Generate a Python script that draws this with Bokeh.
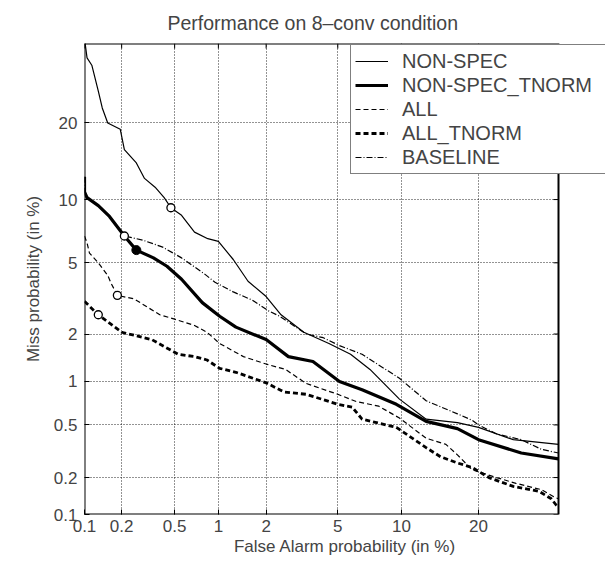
from statistics import NormalDist
from bokeh.plotting import figure
from bokeh.models import (FixedTicker, Legend, LegendItem, Range1d)
from bokeh.embed import file_html
from bokeh.resources import INLINE

# ---- data (percent) ----
TICKS = [0.1, 0.2, 0.5, 1, 2, 5, 10, 20]
TICK_LABELS = ["0.1", "0.2", "0.5", "1", "2", "5", "10", "20"]
LIMITS = [0.1, 35.0]

NON_SPEC_FA = [0.1, 0.105, 0.115, 0.13, 0.14, 0.155, 0.195, 0.21, 0.26, 0.3, 0.36, 0.42, 0.47,
               0.56, 0.69, 0.85, 1.0, 1.25, 1.55, 2.0, 2.45, 3.3, 4.5, 5.8, 7.2, 9.8, 12.7,
               16.8, 20, 26, 35]
NON_SPEC_MISS = [36, 32, 30.5, 25.5, 22.5, 20, 19, 16, 14.2, 12.3, 11.3, 10.2, 9.2,
                 8.5, 7.1, 6.6, 6.4, 5.2, 4.0, 3.3, 2.6, 2.05, 1.75, 1.5, 1.2, 0.76, 0.55,
                 0.52, 0.48, 0.39, 0.36]

NS_TNORM_FA = [0.1, 0.1, 0.105, 0.13, 0.16, 0.21, 0.26, 0.35, 0.44, 0.56, 0.78, 1.02, 1.3,
               2.0, 2.7, 3.7, 5.1, 6.6, 9.5, 12.7, 16.8, 20, 27.5, 35]
NS_TNORM_MISS = [12.5, 10.8, 10.2, 9.4, 8.4, 6.8, 5.8, 5.3, 4.8, 4.1, 3.05, 2.55, 2.2,
                 1.85, 1.45, 1.35, 1.0, 0.88, 0.7, 0.53, 0.47, 0.39, 0.31, 0.28]

ALL_FA = [0.1, 0.105, 0.11, 0.13, 0.155, 0.165, 0.185, 0.25, 0.31, 0.39, 0.5, 0.69, 0.84,
          1.02, 1.45, 2.0, 2.6, 3.4, 5.0, 6.2, 7.9, 9.8, 12.7, 15.2, 16.8, 19, 23, 26.5,
          31.5, 34, 35]
ALL_MISS = [6.8, 6.3, 5.6, 5.0, 4.3, 3.9, 3.35, 3.2, 2.9, 2.6, 2.45, 2.25, 2.05,
            1.75, 1.45, 1.3, 1.2, 0.97, 0.82, 0.73, 0.68, 0.56, 0.4, 0.36, 0.3, 0.23,
            0.2, 0.18, 0.16, 0.14, 0.135]

ALL_TNORM_FA = [0.1, 0.13, 0.2, 0.34, 0.53, 0.69, 0.84, 1.02, 1.3, 2.0, 2.55, 3.4, 5.0,
                5.9, 6.6, 9.5, 12.7, 14.5, 16.8, 19, 21.7, 26, 31, 33.5, 34.5, 35]
ALL_TNORM_MISS = [3.1, 2.6, 2.05, 1.85, 1.5, 1.45, 1.38, 1.22, 1.15, 0.98, 0.85, 0.82, 0.7,
                  0.67, 0.55, 0.48, 0.34, 0.29, 0.26, 0.24, 0.2, 0.17, 0.155, 0.135, 0.12,
                  0.115]

BASELINE_FA = [0.1, 0.1, 0.105, 0.13, 0.16, 0.21, 0.29, 0.41, 0.56, 0.8, 0.95, 1.25, 1.65,
               2.05, 2.4, 3.4, 4.2, 5.1, 6.6, 9.8, 12.7, 16.8, 19, 20, 23, 27.5, 31.5, 35]
BASELINE_MISS = [12.5, 10.8, 10.2, 9.4, 8.4, 6.8, 6.5, 6.0, 5.3, 4.4, 3.95, 3.5, 3.15,
                 2.75, 2.55, 2.0, 1.9, 1.7, 1.5, 1.05, 0.74, 0.6, 0.54, 0.5, 0.43, 0.39,
                 0.33, 0.31]

# minimum-cost operating points (open / filled circles)
OPEN_PT_FA = [0.47, 0.21, 0.185, 0.13]
OPEN_PT_MISS = [9.2, 6.8, 3.35, 2.6]
FILLED_PT_FA = [0.26]
FILLED_PT_MISS = [5.8]

nd = NormalDist()
def probit(vals):
    return [nd.inv_cdf(v / 100.0) for v in vals]

lo, hi = probit(LIMITS)
FONT = "Liberation Sans"

# the axes box ends at 35 %; the plotting frame extends further right so that
# the legend can overhang the box as in the original
BOX_W, FRAME_W, FRAME_H = 474, 521, 471
x_ext = lo + (hi - lo) * FRAME_W / BOX_W
px_x = BOX_W / (hi - lo)
px_y = FRAME_H / (hi - lo)

p = figure(frame_width=FRAME_W, frame_height=FRAME_H, output_backend="svg",
           toolbar_location=None,
           x_range=Range1d(lo, x_ext), y_range=Range1d(lo, hi),
           min_border_left=84, min_border_right=0, min_border_top=42, min_border_bottom=48,
           title="Performance on 8\u2013conv condition")
p.title.align = "left"
p.title.offset = 83
p.title.standoff = 19
p.title.text_font = FONT
p.title.text_font_size = "19.5px"
p.title.text_font_style = "normal"
p.outline_line_color = None
p.background_fill_color = "white"
p.border_fill_color = "white"

tick_pos = probit(TICKS)
overrides = {tp: lab for tp, lab in zip(tick_pos, TICK_LABELS)}

for ax in (p.xaxis[0], p.yaxis[0]):
    ax.ticker = FixedTicker(ticks=tick_pos, minor_ticks=[])
    ax.major_label_overrides = overrides
    ax.major_label_text_font = FONT
    ax.major_label_text_font_size = "17px"
    ax.major_tick_in = 5
    ax.major_tick_out = 0
    ax.axis_line_color = None
    ax.axis_label_text_font = FONT
    ax.axis_label_text_font_size = "17px"
    ax.axis_label_text_font_style = "normal"
p.xaxis[0].axis_label = "False Alarm probability (in %)"
p.yaxis[0].axis_label = "Miss probability (in %)"
p.xaxis[0].major_label_standoff = 5
p.xaxis[0].axis_label_standoff = 2
p.yaxis[0].major_label_standoff = 7
p.yaxis[0].axis_label_standoff = 8

p.xgrid.ticker = FixedTicker(ticks=tick_pos, minor_ticks=[])
p.ygrid.ticker = FixedTicker(ticks=tick_pos, minor_ticks=[])
p.grid.grid_line_color = "black"
p.grid.grid_line_dash = "1 2"
p.grid.grid_line_width = 1
p.grid.grid_line_alpha = 0.85

# blank the strip right of the axes box, then draw the box and its top/right ticks
p.quad(left=[hi], right=[x_ext + 1], bottom=[lo - 1], top=[hi + 1],
       fill_color="white", line_color=None)
p.quad(left=[lo], right=[hi], bottom=[lo], top=[hi],
       fill_alpha=0, line_color="black", line_width=2)
tick_len_y = 5 / px_y
tick_len_x = 5 / px_x
p.segment(x0=tick_pos, y0=[hi] * len(tick_pos), x1=tick_pos,
          y1=[hi - tick_len_y] * len(tick_pos), line_color="black", line_width=1)
p.segment(x0=[hi] * len(tick_pos), y0=tick_pos, x1=[hi - tick_len_x] * len(tick_pos),
          y1=tick_pos, line_color="black", line_width=1)

r1 = p.line(probit(NON_SPEC_FA), probit(NON_SPEC_MISS), line_color="black", line_width=1.2)
r2 = p.line(probit(NS_TNORM_FA), probit(NS_TNORM_MISS), line_color="black", line_width=3.2)
r3 = p.line(probit(ALL_FA), probit(ALL_MISS), line_color="black", line_width=1.2,
            line_dash="5 3")
r4 = p.line(probit(ALL_TNORM_FA), probit(ALL_TNORM_MISS), line_color="black", line_width=2.8,
            line_dash="5 3")
r5 = p.line(probit(BASELINE_FA), probit(BASELINE_MISS), line_color="black", line_width=1.2,
            line_dash="6 2 1 2")

p.scatter(probit(OPEN_PT_FA), probit(OPEN_PT_MISS), marker="circle", size=8,
          fill_color="white", line_color="black", line_width=1.3)
p.scatter(probit(FILLED_PT_FA), probit(FILLED_PT_MISS), marker="circle", size=9,
          fill_color="black", line_color="black")

legend = Legend(items=[
    LegendItem(label="NON-SPEC", renderers=[r1]),
    LegendItem(label="NON-SPEC_TNORM", renderers=[r2]),
    LegendItem(label="ALL", renderers=[r3]),
    LegendItem(label="ALL_TNORM", renderers=[r4]),
    LegendItem(label="BASELINE", renderers=[r5]),
], location=(266, 340))
legend.label_text_font = FONT
legend.label_text_font_size = "20px"
legend.glyph_width = 33
legend.glyph_height = 24
legend.label_height = 24
legend.label_width = 240
legend.label_standoff = 14
legend.spacing = 0
legend.padding = 4
legend.margin = 0
legend.border_line_color = "black"
legend.border_line_width = 1.2
legend.background_fill_color = "white"
legend.background_fill_alpha = 1
p.add_layout(legend, "center")

open("out.html", "w").write(file_html(p, INLINE))
